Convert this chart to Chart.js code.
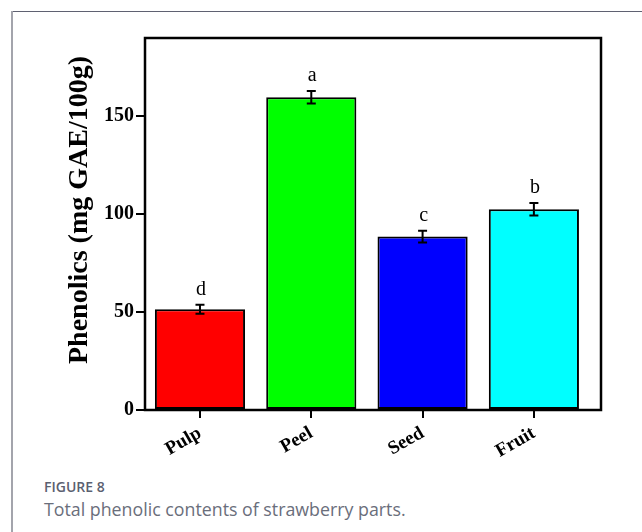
<!DOCTYPE html>
<html>
<head>
<meta charset="utf-8">
<script src="https://cdn.jsdelivr.net/npm/chart.js@4"></script>
<style>
html,body{margin:0;padding:0;background:#fff;}
body{width:642px;height:532px;position:relative;overflow:hidden;}
#frameTop{position:absolute;left:11px;top:11px;width:631px;height:1px;background:#5f6171;}
#frameLeft{position:absolute;left:11px;top:11px;width:2px;height:521px;background:#a3a4ac;}
#wrap{position:absolute;left:0;top:0;width:642px;height:470px;}
.cap1{position:absolute;left:44px;top:480px;font-family:"Open Sans",sans-serif;font-weight:600;font-size:14px;line-height:14px;color:#5b6070;}
.cap2{position:absolute;left:44px;top:500px;font-family:"Open Sans",sans-serif;font-weight:400;font-size:17.8px;line-height:18px;color:#6a6e7b;}
</style>
</head>
<body>
<div id="frameTop"></div>
<div id="frameLeft"></div>
<div id="wrap"><canvas id="c" width="642" height="470"></canvas></div>
<div class="cap1">FIGURE 8</div>
<div class="cap2">Total phenolic contents of strawberry parts.</div>
<script>
const categories = ["Pulp", "Peel", "Seed", "Fruit"];
const values = [51.5, 159.7, 88.6, 102.5];
const errors = [2.3, 3.2, 3.0, 3.2];
const letters = ["d", "a", "c", "b"];
const colors = ["#ff0000", "#00ff00", "#0000ff", "#00ffff"];
const yTicks = [0, 50, 100, 150];
const yTitle = "Phenolics (mg GAE/100g)";

const serif = '"Liberation Serif","Times New Roman",serif';

const boxPlugin = {
  id: 'box',
  afterDatasetsDraw(chart) {
    const {ctx, chartArea: a, scales} = chart;
    const ys = scales.y, xs = scales.x;
    ctx.save();
    ctx.strokeStyle = '#000';
    ctx.lineWidth = 2;
    ctx.fillStyle = '#000';
    ctx.font = '20px ' + serif;
    ctx.textAlign = 'center';
    ctx.textBaseline = 'alphabetic';
    values.forEach((v, i) => {
      const x = xs.getPixelForValue(i);
      const yt = ys.getPixelForValue(v + errors[i]);
      const yb = ys.getPixelForValue(v - errors[i]);
      ctx.beginPath();
      ctx.moveTo(x, yt); ctx.lineTo(x, yb);
      ctx.moveTo(x - 4.5, yt); ctx.lineTo(x + 4.5, yt);
      ctx.moveTo(x - 4.5, yb); ctx.lineTo(x + 4.5, yb);
      ctx.stroke();
      ctx.fillText(letters[i], x + 1, yt - 10);
    });
    ctx.lineWidth = 2.5;
    ctx.strokeRect(a.left, a.top, a.right - a.left, a.bottom - a.top);
    ctx.font = 'bold 28px ' + serif;
    ctx.translate(a.left - 58, (a.top + a.bottom) / 2 - 14);
    ctx.rotate(-Math.PI / 2);
    ctx.textAlign = 'center';
    ctx.fillText(yTitle, 0, 0);
    ctx.restore();
  }
};

new Chart(document.getElementById('c'), {
  type: 'bar',
  data: {
    datasets: [{
      data: values.map((v, i) => ({x: i, y: v})),
      backgroundColor: colors,
      borderColor: '#000',
      borderWidth: 2,
      borderSkipped: false,
      barPercentage: 0.81,
      categoryPercentage: 1
    }]
  },
  options: {
    responsive: false,
    animation: false,
    layout: {padding: {top: 38, right: 41, left: 0, bottom: 0}},
    plugins: {legend: {display: false}, tooltip: {enabled: false}},
    scales: {
      x: {
        type: 'linear',
        offset: false,
        min: -0.494,
        max: 3.603,
        afterBuildTicks: s => { s.ticks = categories.map((c, i) => ({value: i})); },
        afterFit: s => { s.height = 60; },
        grid: {display: true, offset: false, drawOnChartArea: false, drawTicks: true, tickLength: 8, color: '#000', lineWidth: 2},
        border: {display: false},
        ticks: {
          callback: v => categories[v],
          minRotation: 30, maxRotation: 30,
          color: '#000',
          font: {family: serif, size: 19, weight: 'bold'},
          padding: 4,
          autoSkip: false
        }
      },
      y: {
        min: 0,
        max: 190,
        afterBuildTicks: s => { s.ticks = yTicks.map(v => ({value: v})); },
        afterFit: s => { s.width = 145; },
        grid: {display: true, drawOnChartArea: false, drawTicks: true, tickLength: 9, color: '#000', lineWidth: 2},
        border: {display: false},
        ticks: {
          color: '#000',
          font: {family: serif, size: 20, weight: 'bold'},
          padding: 2
        }
      }
    }
  },
  plugins: [boxPlugin]
});
</script>
</body>
</html>
